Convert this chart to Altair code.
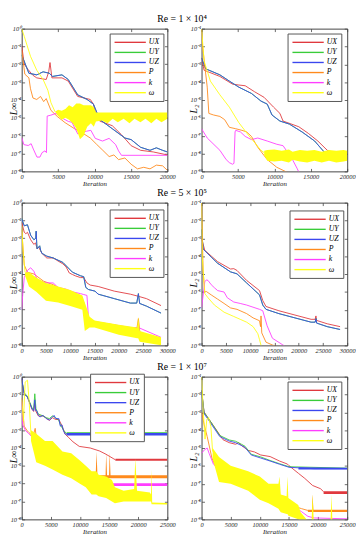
import altair as alt
import pandas as pd

NAMES = ["UX", "UY", "UZ", "P", "k", "ω"]
COLORS = ["#e0393e", "#39cc39", "#3b47ee", "#ff8a1c", "#ff3dff", "#ffff14"]

TITLES = ["Re = 1 × 10⁴", "Re = 5 × 10⁵", "Re = 1 × 10⁷"]
X_MAX = [20000, 30000, 25000]
X_TICKS = [
    [0, 5000, 10000, 15000, 20000],
    [0, 5000, 10000, 15000, 20000, 25000, 30000],
    [0, 5000, 10000, 15000, 20000, 25000],
]
Y_TOP = [0, -1]          # exponent of top tick: left (L_inf), right (L_2)
Y_TITLES = ["L∞", "L₂"]
LEGEND_POS = [[(90, 5), (88, 5)], [(90, 7), (90, 8)], [(70, -3), (88, 5)]]

# ---- data: (iteration, log10 residual) ----
# Re = 1e4, L_inf
A_UX = [(0,-0.95),(350,-1.99),(900,-2.3),(1500,-2.6),(2070,-2.76),(3370,-2.85),(3710,-2.42),(3890,-1.9),(4150,-2.76),(5530,-2.76),(6390,-2.94),(7690,-3.8),(9420,-3.97),(9850,-4.23),(10150,-4.75),(10710,-5.18),(12440,-5.44),(13740,-5.96),(15030,-6.56),(16330,-6.82),(18060,-6.91),(20000,-7.08)]
A_UZ = [(0,-1.47),(990,-2.5),(2070,-2.59),(2940,-2.42),(3800,-2.5),(4230,-2.68),(5530,-2.59),(6390,-2.85),(7690,-3.71),(8980,-3.97),(9850,-4.23),(10710,-5.09),(12440,-5.61),(14170,-6.13),(15030,-6.22),(16330,-6.65),(17620,-6.82),(18490,-6.68),(19350,-6.82),(20000,-6.91)]
A_UY = A_UZ
A_P = [(0,-1.2),(430,-2.55),(990,-2.76),(1210,-3.37),(1550,-3.89),(2070,-3.97),(2590,-3.8),(3020,-4.09),(3370,-3.92),(4020,-4.58),(4880,-4.92),(5960,-5.27),(7260,-5.61),(8120,-5.79),(9420,-6.13),(10280,-6.48),(11140,-6.82),(12010,-7.17),(12660,-7.08),(13300,-7.34),(14170,-7.25),(15030,-7.6),(15900,-7.86),(16760,-7.77),(17620,-7.86),(18490,-7.65),(19350,-7.69),(20000,-7.94)]
A_K = [(0,-6.1),(300,-6.5),(900,-6.55),(1300,-6.45),(1600,-6.75),(2100,-7.2),(2500,-7.2),(2800,-6.95),(3200,-6.85),(3400,-6.95),(3500,-4.9),(4000,-4.85),(4700,-4.75),(5500,-5.0),(6400,-5.2),(6900,-5.25),(7700,-5.9),(8900,-5.75),(9500,-5.7),(10100,-6.15),(11100,-6.3),(12000,-6.15),(12900,-6.5),(13300,-6.85),(13700,-7.1),(20000,-7.1)]
A_W = [(0,0.0),(350,-0.43),(1210,-1.55),(2070,-2.33),(2940,-2.85),(3590,-3.45),(4020,-4.15),(4580,-4.66)]
A_W_BAND = [(4580,-4.66,-4.66),(5000,-4.55,-4.9),(5500,-4.6,-5.1),(6000,-4.5,-5.0),(6500,-4.3,-5.1),(7000,-4.4,-5.3),(7500,-4.2,-5.6),(8000,-4.2,-6.2),(8500,-4.3,-6.0),(9000,-4.3,-5.5),(9500,-4.3,-5.3),(9900,-4.4,-5.5),(10200,-4.7,-5.2),(11000,-4.7,-5.15),(11800,-4.7,-5.3),(12500,-4.7,-5.05),(13200,-4.7,-5.25),(14000,-4.7,-5.05),(14800,-4.7,-5.3),(15500,-4.7,-5.05),(16300,-4.7,-5.25),(17000,-4.7,-5.05),(17800,-4.7,-5.3),(18500,-4.7,-5.05),(19200,-4.7,-5.25),(20000,-4.7,-5.05)]

# Re = 1e4, L_2
B_UX = [(0,-2.64),(350,-3.33),(2520,-3.68),(4250,-4.11),(5120,-4.16),(5990,-4.2),(7290,-4.54),(8590,-4.85),(9890,-5.4),(10760,-5.75),(11190,-6.18),(13360,-6.5),(14660,-6.87),(15970,-7.3),(17270,-7.82),(18570,-8.08),(20000,-8.17)]
B_UZ = [(0,-2.64),(560,-3.25),(2520,-3.59),(3820,-3.94),(5120,-4.28),(6850,-4.63),(8160,-5.06),(9020,-5.23),(9670,-5.84),(10760,-6.18),(12060,-6.35),(13800,-6.79),(15530,-7.3),(16830,-7.91),(18130,-8.08),(20000,-8.25)]
B_UY = B_UZ
B_P = [(0,-1.05),(130,-1.95),(780,-4.28),(1000,-5.75),(1650,-5.84),(2520,-5.92),(3170,-6.1),(3820,-6.53),(4690,-6.61),(5550,-6.7),(6200,-6.79),(6850,-7.04),(7720,-7.65),(9020,-8.34),(10330,-8.77),(11190,-8.94),(12000,-9.1)]
B_K = [(0,-6.61),(780,-7.13),(2520,-7.82),(3380,-8.34),(3820,-8.51),(4250,-8.6),(4450,-8.55),(4600,-6.79),(4690,-6.7),(5340,-6.79),(5990,-7.04),(6850,-7.22),(7720,-7.13),(9020,-7.3),(10330,-7.48),(11190,-7.56),(11630,-7.82),(12490,-8.34),(13150,-8.86),(13360,-9.05)]
B_W = [(0,-1.0),(350,-2.81),(1210,-3.94),(2520,-4.71),(3820,-5.4),(5120,-6.27),(6420,-6.96),(7290,-7.39),(8160,-7.82),(8600,-7.95)]
B_W_BAND = [(8600,-7.85,-8.1),(9020,-7.8,-8.4),(10000,-7.78,-8.45),(11000,-7.85,-8.4),(12000,-7.78,-8.5),(12500,-7.9,-8.35),(13500,-7.8,-8.45),(14500,-7.85,-8.5),(15500,-7.8,-8.4),(16500,-7.9,-8.5),(17500,-7.8,-8.4),(18500,-7.85,-8.5),(19500,-7.8,-8.45),(20000,-7.85,-8.4)]

# Re = 5e5, L_inf
C_UX = [(0,-1.1),(530,-1.66),(860,-1.74),(1190,-1.66),(1850,-2.08),(2520,-2.34),(2850,-2.25),(3180,-2.59),(3510,-2.5),(3840,-2.67),(4170,-2.84),(4500,-2.93),(5170,-3.1),(6490,-3.1),(7480,-3.27),(8480,-3.43),(9140,-3.6),(9800,-3.94),(10460,-4.03),(11130,-4.11),(12120,-4.2),(12780,-4.2),(13440,-4.5),(14110,-4.62),(15760,-4.7),(19070,-4.96),(22380,-5.13),(24040,-5.25),(25700,-5.38),(28700,-5.77)]
C_UZ = [(0,-0.9),(530,-1.3),(1190,-1.24),(1850,-1.83),(2520,-2.08),(2900,-2.0),(2980,-1.6),(3100,-2.3),(3180,-2.59),(3710,-2.42),(3900,-2.67),(4170,-2.84),(5170,-3.0),(6490,-3.1),(8480,-3.35),(10460,-3.9),(12120,-4.1),(12780,-4.15),(13200,-4.75),(13770,-4.87),(15100,-4.96),(15760,-5.13),(19070,-5.38),(22380,-5.63),(23700,-5.63),(24040,-5.1),(24300,-5.65),(25700,-5.8),(28700,-6.19)]
C_UY = C_UZ
C_P = [(0,-1.5),(530,-3.5),(1190,-3.9),(2520,-4.0),(4500,-4.4),(6490,-4.6),(9140,-5.0),(12120,-5.3),(12780,-5.6),(13440,-6.3),(14110,-6.6),(15760,-6.7),(19070,-6.85),(22380,-7.1),(23700,-7.1),(24040,-6.5),(24400,-7.4),(28700,-7.7)]
C_K = [(0,-6.0),(200,-5.2),(530,-4.2),(1190,-3.8),(1850,-3.65),(2520,-3.85),(3180,-4.3),(3840,-4.4),(5170,-4.5),(6490,-4.5),(7480,-4.75),(9140,-4.85),(10460,-5.0),(12120,-5.1),(12780,-5.15),(13440,-5.2),(13800,-6.6),(15760,-6.75),(19070,-6.85),(22380,-7.0),(24040,-7.0),(28700,-7.55)]
C_W = [(0,-1.3),(300,-2.8),(700,-3.9)]
C_W_BAND = [(700,-3.9,-4.1),(1500,-3.9,-4.7),(3000,-4.2,-5.0),(5000,-4.5,-5.5),(7500,-4.7,-5.6),(10000,-4.9,-5.8),(12500,-5.2,-6.0),(13000,-5.6,-7.2),(14000,-6.4,-7.0),(15000,-6.6,-7.0),(20000,-6.85,-7.4),(23800,-7.0,-7.6),(24000,-6.4,-7.6),(24300,-7.2,-7.8),(28700,-7.55,-8.0)]

# Re = 5e5, L_2
D_UX = [(0,-3.0),(660,-3.67),(1990,-3.99),(3320,-4.31),(5970,-4.72),(6640,-4.7),(7300,-4.8),(9290,-5.36),(11940,-5.93),(12610,-6.49),(13270,-6.82),(15930,-7.06),(19240,-7.3),(22560,-7.54),(23400,-7.54),(23560,-7.35),(23700,-7.6),(25880,-7.79),(28530,-7.95)]
D_UZ = [(0,-2.5),(330,-3.6),(1990,-4.05),(3320,-4.4),(5970,-4.88),(7300,-4.99),(9290,-5.5),(11940,-6.17),(12610,-6.74),(13270,-6.98),(15930,-7.22),(19240,-7.46),(22560,-7.7),(23400,-7.7),(23560,-7.5),(23700,-7.75),(25880,-7.95),(28530,-8.11)]
D_UY = D_UZ
D_P = [(0,-1.0),(330,-4.88),(660,-6.01),(990,-5.98),(1990,-6.17),(3320,-6.41),(4640,-6.65),(5970,-6.9),(7300,-6.98),(9290,-7.22),(10620,-7.46),(11940,-7.62),(12150,-7.95),(12250,-7.35),(12400,-8.3),(13270,-8.82),(14600,-8.98),(16000,-9.1)]
D_K = [(0,-6.9),(660,-5.44),(990,-5.33),(1330,-5.36),(1990,-5.6),(2650,-5.77),(3320,-5.93),(4640,-6.01),(5300,-6.33),(6640,-6.57),(7960,-6.65),(9290,-6.74),(11940,-6.98),(12610,-7.06),(13500,-7.9),(14600,-8.6),(16600,-8.95),(17500,-9.1)]
D_W = [(0,-1.0),(130,-3.99),(660,-6.09),(1330,-6.33),(2650,-6.74),(4640,-7.14),(6640,-7.38),(7960,-7.54),(9290,-7.7),(10620,-7.95),(11600,-8.35),(11940,-8.68),(12300,-9.05)]

# Re = 1e7, L_inf
E_UX = [(0,-0.17),(430,-0.96),(970,-1.13),(1780,-1.83),(2050,-1.95),(2250,-1.5),(2450,-1.95),(2860,-2.2),(3670,-2.2),(4750,-2.45),(5290,-2.3),(5830,-2.4),(6370,-2.4),(6910,-2.75),(7450,-3.22),(7990,-3.39),(8800,-3.65),(9880,-3.91),(11770,-4.0),(13390,-4.17),(14470,-4.35),(15820,-4.61),(16090,-4.66)]
E_UX_BAND = [(16090,-4.6,-4.72),(25000,-4.6,-4.72)]
E_UY = [(0,-0.2),(430,-0.9),(970,-1.1),(1780,-1.75),(2050,-1.85),(2250,-0.96),(2450,-1.8),(2860,-2.1),(3670,-2.2),(4210,-2.3),(4750,-2.35),(5290,-2.2),(5830,-2.3),(6370,-2.45),(6640,-2.7),(7180,-3.0),(7720,-3.2)]
E_UY_BAND = [(7720,-3.12,-3.26),(25000,-3.12,-3.26)]
E_UZ = [(0,-0.09),(430,-1.0),(970,-1.13),(1780,-1.83),(2050,-1.91),(2250,-1.3),(2400,-1.9),(2590,-1.91),(2860,-2.17),(3130,-2.26),(3670,-2.17),(4210,-2.35),(4750,-2.43),(5290,-2.26),(5560,-2.17),(5830,-2.35),(6370,-2.35),(6640,-2.78),(6910,-2.7),(7180,-3.04),(7450,-3.22),(7720,-3.22)]
E_UZ_BAND = [(7720,-3.16,-3.3),(25000,-3.16,-3.3)]
E_P = [(0,-1.2),(430,-2.78),(970,-3.04),(1240,-3.13),(1780,-3.3),(2050,-3.22),(2320,-2.9),(2590,-3.65),(3130,-3.83),(3670,-4.09),(4210,-4.17),(4750,-4.35),(5290,-4.0),(5560,-3.91),(5830,-4.09),(6370,-4.35),(6910,-4.7),(7180,-4.78),(7990,-4.96),(9070,-5.04),(10150,-5.13),(10960,-5.55)]
E_P_BAND = [(10960,-5.53,-5.7),(12700,-5.53,-5.7),(12850,-4.2,-5.7),(13000,-5.53,-5.7),(14400,-5.53,-5.7),(14500,-4.3,-5.7),(14650,-5.53,-5.7),(15000,-5.53,-5.7),(15100,-4.25,-5.7),(15250,-5.53,-5.7),(25000,-5.53,-5.7)]
E_K = [(0,-1.4),(160,-2.7),(700,-3.04),(1240,-3.2),(2050,-3.48),(2320,-3.39),(2590,-3.91),(3130,-4.09),(3670,-4.26),(4480,-4.17),(5020,-3.91),(5290,-3.83),(5830,-4.09),(6370,-4.43),(6910,-4.7),(7450,-4.96),(8530,-5.22),(10150,-5.57),(11230,-5.83),(12310,-6.0),(12850,-6.05)]
E_K_BAND = [(12850,-5.98,-6.13),(25000,-5.98,-6.13)]
E_W = [(0,-1.3),(300,-2.5),(600,-0.3),(1000,-0.2),(1300,-1.5),(1600,-3.3)]
E_W_BAND = [(1600,-3.0,-3.6),(2500,-3.2,-4.8),(4000,-3.6,-5.0),(5300,-3.6,-5.2),(7000,-4.2,-5.5),(8500,-4.3,-5.7),(10000,-4.7,-6.0),(11000,-5.0,-6.2),(12000,-5.3,-6.6),(12800,-5.3,-6.6),(13200,-5.5,-6.7),(14500,-5.6,-6.8),(15500,-5.8,-7.0),(16000,-6.2,-7.1),(17500,-6.4,-7.0),(19300,-6.3,-7.0),(19500,-4.6,-7.0),(19800,-6.4,-7.0),(22000,-6.5,-7.0),(22200,-6.6,-7.0),(22300,-5.2,-7.15),(22400,-7.05,-7.15),(25000,-7.08,-7.16)]

# Re = 1e7, L_2
F_UX = [(0,-1.77),(430,-2.98),(970,-3.24),(1510,-3.5),(2050,-3.75),(3130,-4.27),(3670,-4.53),(4750,-4.7),(5830,-4.79),(6370,-4.7),(6910,-4.87),(7990,-5.13),(9070,-5.22),(10150,-5.39),(11770,-5.48),(13390,-5.73),(14740,-5.9),(15010,-5.99),(16630,-6.42),(17710,-6.7),(19060,-7.1),(20410,-7.28),(20950,-7.45)]
F_UX_BAND = [(20950,-7.42,-7.58),(25000,-7.42,-7.58)]
F_UY = [(0,-1.77),(430,-3.0),(1510,-3.5),(3130,-4.3),(4750,-4.55),(5830,-4.62),(6910,-4.8),(7450,-4.9),(8530,-5.35),(10150,-5.5),(11770,-5.7),(13390,-5.88),(15010,-6.05),(25000,-6.13)]
F_UZ = [(0,-1.77),(430,-3.07),(1510,-3.58),(3130,-4.36),(4750,-4.61),(5830,-4.7),(6910,-4.87),(7450,-4.96),(8530,-5.39),(10150,-5.56),(11770,-5.73),(13390,-5.91),(15010,-6.08),(16630,-6.11),(19330,-6.16),(25000,-6.16)]
F_UZ_BAND = [(16630,-6.08,-6.2),(25000,-6.1,-6.2)]
F_P = [(0,-2.98),(430,-3.67),(970,-4.36),(1780,-5.56),(2590,-6.16),(3670,-6.34),(4750,-6.51),(5830,-6.68),(6910,-6.68),(8530,-6.94),(10150,-7.15),(11770,-7.37),(13390,-7.63),(14470,-7.97),(15550,-8.23),(17170,-8.4),(18250,-8.5)]
F_P_BAND = [(18250,-8.46,-8.58),(18950,-8.46,-8.58),(19060,-7.6,-8.58),(19200,-8.46,-8.58),(25000,-8.46,-8.58)]
F_K = [(0,-5.3),(500,-5.1),(970,-5.0),(1300,-5.3),(2050,-5.91),(2590,-6.08),(3670,-6.25),(4750,-6.42),(5290,-6.42),(5830,-6.34),(6370,-6.42),(6910,-6.51),(7990,-6.85),(9070,-7.02),(10150,-7.2),(11770,-7.45),(12850,-7.63),(13930,-7.88),(15550,-8.23),(17170,-8.57),(18250,-8.83),(19330,-8.92),(25000,-8.97)]
F_W = [(0,-1.0),(300,-3.0),(600,-4.5),(900,-3.4),(1200,-3.3),(1600,-3.8),(1900,-5.2)]
F_W_BAND = [(1900,-5.0,-5.6),(3000,-5.5,-6.9),(5000,-6.0,-7.0),(8000,-6.3,-7.4),(10000,-6.6,-7.9),(11500,-7.0,-8.1),(13200,-7.0,-8.4),(13390,-6.6,-8.5),(13600,-7.6,-8.6),(14600,-7.7,-8.7),(14740,-6.6,-8.7),(14900,-7.8,-8.8),(16600,-8.2,-9.0),(17000,-8.6,-9.1),(18000,-9.0,-9.2),(18900,-9.05,-9.2),(19060,-7.6,-9.2),(19250,-9.05,-9.2),(22150,-9.05,-9.2),(22300,-7.6,-9.2),(22450,-9.05,-9.2),(25000,-9.05,-9.2)]

PANELS = [
    [([A_UX, A_UY, A_UZ, A_P, A_K, A_W], {"ω": A_W_BAND}),
     ([B_UX, B_UY, B_UZ, B_P, B_K, B_W], {"ω": B_W_BAND})],
    [([C_UX, C_UY, C_UZ, C_P, C_K, C_W], {"ω": C_W_BAND}),
     ([D_UX, D_UY, D_UZ, D_P, D_K, D_W], {})],
    [([E_UX, E_UY, E_UZ, E_P, E_K, E_W],
      {"UX": E_UX_BAND, "UY": E_UY_BAND, "UZ": E_UZ_BAND, "P": E_P_BAND, "k": E_K_BAND, "ω": E_W_BAND}),
     ([F_UX, F_UY, F_UZ, F_P, F_K, F_W],
      {"UX": F_UX_BAND, "UZ": F_UZ_BAND, "P": F_P_BAND, "ω": F_W_BAND})],
]

W, H = 149, 146
FONT = "Liberation Serif"
SUP = "['⁰','¹','²','³','⁴','⁵','⁶','⁷','⁸','⁹']"
YLABEL = "'10' + (datum.value < 0.5 ? '⁻' : '') + " + SUP + "[round(-log(datum.value)/LN10)]"


def line_df(series):
    rows = []
    for name, pts in zip(NAMES, series):
        for i, (it, e) in enumerate(pts):
            rows.append({"s": name, "it": it, "v": 10 ** e, "i": i})
    return pd.DataFrame(rows)


def band_df(bands):
    rows = []
    for name in NAMES:
        if name in bands:
            for i, (it, hi, lo) in enumerate(bands[name]):
                rows.append({"s": name, "it": it, "hi": 10 ** hi, "lo": 10 ** lo, "i": i})
    return pd.DataFrame(rows)


def panel(r, c):
    series, bands = PANELS[r][c]
    top = Y_TOP[c]
    yvals = [10.0 ** e for e in range(top, top - 9, -1)]
    xs = alt.Scale(domain=[0, X_MAX[r]], nice=False, zero=False)
    ys = alt.Scale(type="log", domain=[10.0 ** (top - 8), 10.0 ** top], nice=False)
    df = line_df(series)
    lx, ly = LEGEND_POS[r][c]
    legend = alt.Legend(
        title=None, orient="none", legendX=lx, legendY=ly,
        symbolType="M-1,0H7", symbolSize=64, symbolStrokeWidth=1.4,
        labelFont=FONT, labelFontStyle="italic", labelFontSize=8, labelOffset=26,
        strokeColor="#555", fillColor="white", padding=4, rowPadding=1.3, cornerRadius=0,
    )
    main = alt.Chart(df).mark_line(strokeWidth=0.9, clip=True).encode(
        x=alt.X("it:Q", scale=xs, axis=alt.Axis(
            values=X_TICKS[r], format="d", title="Iteration", ticks=False, domain=False, grid=False,
            labelFont=FONT, labelFontStyle="italic", labelFontSize=6.5, labelPadding=2, labelFlush=False,
            titleFont=FONT, titleFontStyle="italic", titleFontSize=7, titleFontWeight="normal", titlePadding=0)),
        y=alt.Y("v:Q", scale=ys, axis=alt.Axis(
            values=yvals, labelExpr=YLABEL, title=Y_TITLES[c], ticks=False, domain=False, grid=False,
            labelFont=FONT, labelFontStyle="italic", labelFontSize=6.5, labelPadding=1,
            titleFont=FONT, titleFontStyle="italic", titleFontSize=10, titleFontWeight="normal",
            titleX=-8, titleY=H * 0.56, titleAngle=270, titleAlign="center", titleBaseline="middle")),
        color=alt.Color("s:N", scale=alt.Scale(domain=NAMES, range=COLORS), sort=NAMES, legend=legend),
        order="i:Q",
    )
    layers = [main]
    if bands:
        band = alt.Chart(band_df(bands)).mark_area(clip=True, opacity=1).encode(
            x=alt.X("it:Q", scale=xs, axis=None),
            y=alt.Y("hi:Q", scale=ys, axis=None),
            y2="lo:Q",
            fill=alt.Fill("s:N", scale=alt.Scale(domain=NAMES, range=COLORS), legend=None),
            detail="s:N",
        )
        layers.append(band)
    tick_kw = dict(labels=False, domain=False, grid=False, title=None, tickSize=3,
                   tickColor="#444", tickWidth=0.8)
    t1 = alt.Chart(df).mark_point(opacity=0, size=1).encode(
        x=alt.X("it:Q", scale=xs, axis=alt.Axis(orient="top", offset=-H, values=X_TICKS[r], **tick_kw)),
        y=alt.Y("v:Q", scale=ys, axis=alt.Axis(orient="right", offset=-W, values=yvals, **tick_kw)),
    )
    t2 = alt.Chart(df).mark_point(opacity=0, size=1).encode(
        x=alt.X("it:Q", scale=xs, axis=alt.Axis(orient="bottom", offset=-H, values=X_TICKS[r], **tick_kw)),
        y=alt.Y("v:Q", scale=ys, axis=alt.Axis(orient="left", offset=-W, values=yvals, **tick_kw)),
    )
    layers += [t1, t2]
    return alt.layer(*layers).resolve_axis(x="independent", y="independent").properties(width=W, height=H)


rows = []
for r in range(3):
    row = alt.hconcat(
        panel(r, 0), panel(r, 1), spacing=12,
        title=alt.Title(TITLES[r], font=FONT, fontSize=10, fontWeight="normal", anchor="middle",
                        offset=1, color="#000"),
    ).resolve_scale(x="independent", y="independent", color="independent", fill="independent"
    ).resolve_legend(color="independent")
    rows.append(row)

chart = alt.vconcat(*rows, spacing=1).resolve_scale(
    x="independent", y="independent", color="independent", fill="independent"
).resolve_legend(color="independent").properties(
    padding={"left": 0, "top": 0, "right": 0, "bottom": 0}
).configure_view(stroke="#444", strokeWidth=1).configure_axis(labelColor="#222", titleColor="#111")

chart.save("out.html", embed_options={"renderer": "svg", "actions": False})
